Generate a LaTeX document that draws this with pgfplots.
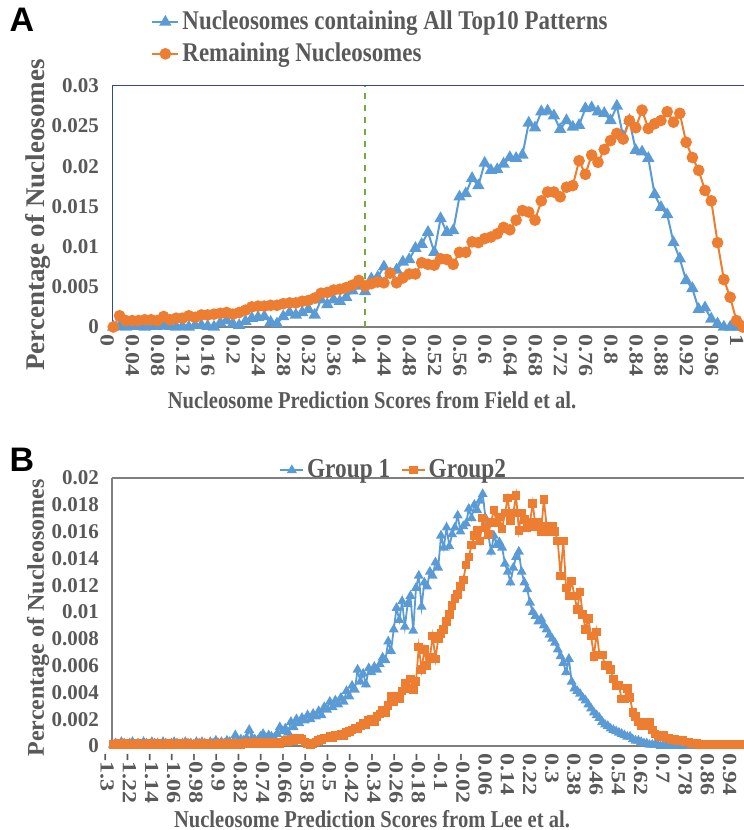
\documentclass[border=0pt]{standalone}
\usepackage{fontspec}
\setmainfont{Liberation Serif}
\newfontfamily\condserif[FakeStretch=0.85]{Liberation Serif}
\newfontfamily\longserif[FakeStretch=1.2]{Liberation Serif}
\newfontfamily\panelfont{Liberation Sans}
\usepackage{pgfplots}
\usepackage{pgfplotstable}
\pgfplotsset{compat=1.18}
\definecolor{serblue}{HTML}{5B9BD5}
\definecolor{serorange}{HTML}{ED7D31}
\definecolor{cutgreen}{HTML}{70AD47}
\definecolor{txtgray}{HTML}{595959}
\definecolor{framenavy}{HTML}{2E4A8C}
\definecolor{framegray}{HTML}{7F7F7F}

% panel A: Field et al. scores, step 0.01
\pgfplotstableread{
x y
0.00 0.0000
0.01 0.0001
0.02 0.0000
0.03 0.0001
0.04 0.0001
0.05 0.0000
0.06 0.0001
0.07 0.0001
0.08 0.0002
0.09 0.0001
0.10 0.0000
0.11 0.0001
0.12 0.0000
0.13 0.0002
0.14 0.0002
0.15 0.0001
0.16 0.0000
0.17 0.0005
0.18 0.0008
0.19 0.0004
0.20 0.0002
0.21 0.0007
0.22 0.0011
0.23 0.0012
0.24 0.0013
0.25 0.0006
0.26 0.0004
0.27 0.0013
0.28 0.0018
0.29 0.0015
0.30 0.0018
0.31 0.0022
0.32 0.0015
0.33 0.0034
0.34 0.0028
0.35 0.0034
0.36 0.0032
0.37 0.0037
0.38 0.0045
0.39 0.0051
0.40 0.0044
0.41 0.0060
0.42 0.0062
0.43 0.0075
0.44 0.0066
0.45 0.0071
0.46 0.0081
0.47 0.0084
0.48 0.0098
0.49 0.0103
0.50 0.0118
0.51 0.0093
0.52 0.0135
0.53 0.0118
0.54 0.0120
0.55 0.0162
0.56 0.0166
0.57 0.0185
0.58 0.0176
0.59 0.0204
0.60 0.0195
0.61 0.0196
0.62 0.0203
0.63 0.0211
0.64 0.0210
0.65 0.0214
0.66 0.0254
0.67 0.0248
0.68 0.0268
0.69 0.0269
0.70 0.0263
0.71 0.0246
0.72 0.0257
0.73 0.0249
0.74 0.0251
0.75 0.0272
0.76 0.0273
0.77 0.0268
0.78 0.0266
0.79 0.0257
0.80 0.0275
0.81 0.0237
0.82 0.0257
0.83 0.0220
0.84 0.0218
0.85 0.0210
0.86 0.0165
0.87 0.0149
0.88 0.0140
0.89 0.0105
0.90 0.0085
0.91 0.0058
0.92 0.0048
0.93 0.0022
0.94 0.0024
0.95 0.0010
0.96 0.0004
0.97 0.0000
0.98 0.0000
0.99 0.0000
1.00 0.0000
}\topten

\pgfplotstableread{
x y
0.00 0.0000
0.01 0.0014
0.02 0.0008
0.03 0.0008
0.04 0.0008
0.05 0.0009
0.06 0.0009
0.07 0.0008
0.08 0.0013
0.09 0.0009
0.10 0.0011
0.11 0.0011
0.12 0.0014
0.13 0.0012
0.14 0.0015
0.15 0.0015
0.16 0.0016
0.17 0.0017
0.18 0.0018
0.19 0.0016
0.20 0.0018
0.21 0.0021
0.22 0.0025
0.23 0.0026
0.24 0.0026
0.25 0.0027
0.26 0.0027
0.27 0.0029
0.28 0.0030
0.29 0.0030
0.30 0.0032
0.31 0.0033
0.32 0.0036
0.33 0.0042
0.34 0.0043
0.35 0.0046
0.36 0.0047
0.37 0.0049
0.38 0.0052
0.39 0.0058
0.40 0.0051
0.41 0.0054
0.42 0.0056
0.43 0.0055
0.44 0.0067
0.45 0.0055
0.46 0.0061
0.47 0.0066
0.48 0.0066
0.49 0.0080
0.50 0.0078
0.51 0.0077
0.52 0.0085
0.53 0.0084
0.54 0.0078
0.55 0.0093
0.56 0.0093
0.57 0.0106
0.58 0.0105
0.59 0.0110
0.60 0.0112
0.61 0.0116
0.62 0.0124
0.63 0.0121
0.64 0.0133
0.65 0.0145
0.66 0.0143
0.67 0.0133
0.68 0.0157
0.69 0.0168
0.70 0.0168
0.71 0.0162
0.72 0.0174
0.73 0.0176
0.74 0.0207
0.75 0.0190
0.76 0.0214
0.77 0.0205
0.78 0.0221
0.79 0.0232
0.80 0.0241
0.81 0.0234
0.82 0.0257
0.83 0.0248
0.84 0.0270
0.85 0.0247
0.86 0.0253
0.87 0.0257
0.88 0.0268
0.89 0.0255
0.90 0.0266
0.91 0.0230
0.92 0.0211
0.93 0.0195
0.94 0.0170
0.95 0.0157
0.96 0.0105
0.97 0.0059
0.98 0.0037
0.99 0.0008
1.00 0.0000
}\remaining

\pgfplotsset{
  panel/.style={
    scale only axis, clip=false,
    axis x line*=bottom, axis y line*=left,
    major tick length=0pt,
    tick label style={text=txtgray},
    /pgf/number format/assume math mode=true,
    scaled y ticks=false, scaled x ticks=false,
    yticklabel style={font=\fontsize{10.5}{11}\selectfont\bfseries, /pgf/number format/fixed, /pgf/number format/precision=3, anchor=east, xshift=-3pt},
    xticklabel style={font=\longserif\bfseries\fontsize{10}{11}\selectfont, /pgf/number format/fixed, /pgf/number format/precision=2, rotate=-90, anchor=west, yshift=-3pt},
    x axis line style={framegray, line width=0.8pt},
    legend style={draw=none, fill=none, text=txtgray, nodes={inner xsep=1.5pt}},
    legend cell align=left,
    legend image code/.code={\draw[##1, mark repeat=2, mark phase=2] plot coordinates {(0cm,0cm) (0.23cm,0cm) (0.46cm,0cm)};},
  }
}

\begin{document}
\begin{tikzpicture}
\useasboundingbox (0,0) rectangle (372pt,415pt);

\node[font=\panelfont\bfseries\fontsize{17}{18}\selectfont] at (11pt,405pt) {A};
\node[font=\panelfont\bfseries\fontsize{17}{18}\selectfont] at (11pt,185pt) {B};

\begin{axis}[panel,
  at={(56pt,251.5pt)}, anchor=south west,
  width=316pt, height=120.5pt,
  xmin=-0.002, xmax=1.002, ymin=0, ymax=0.03,
  xtick={0,0.04,0.08,0.12,0.16,0.2,0.24,0.28,0.32,0.36,0.4,0.44,0.48,0.52,0.56,0.6,0.64,0.68,0.72,0.76,0.8,0.84,0.88,0.92,0.96,1},
  ytick={0,0.005,0.01,0.015,0.02,0.025,0.03},
  y axis line style={framenavy, line width=0.5pt},
  legend style={at={(0.052,1.345)}, anchor=north west, font=\condserif\bfseries\fontsize{13.5}{14}\selectfont, row sep=1pt},
]
\addplot[serblue, line width=1pt, mark=triangle*, mark size=2.6pt] table {\topten};
\addlegendentry{Nucleosomes containing All Top10 Patterns}
\addplot[serorange, line width=1pt, mark=*, mark size=2.4pt] table {\remaining};
\addlegendentry{Remaining Nucleosomes}
\addplot[cutgreen, dashed, line width=0.8pt, forget plot] coordinates {(0.4,0) (0.4,0.03)};
\draw[framenavy, line width=0.5pt] (rel axis cs:0,1) -- (rel axis cs:1,1);
\end{axis}

\node[rotate=90, text=txtgray, font=\fontsize{13.5}{15}\selectfont\bfseries] at (19pt,307.5pt) {Percentage of Nucleosomes};
\node[text=txtgray, font=\condserif\bfseries\fontsize{12.1}{13}\selectfont] at (186pt,215pt) {Nucleosome Prediction Scores from Field et al.};

\begin{axis}[panel,
  at={(56pt,42pt)}, anchor=south west,
  width=316pt, height=134pt,
  xmin=-1.3036, xmax=0.97, ymin=0, ymax=0.02,
  xtick={-1.3,-1.22,-1.14,-1.06,-0.98,-0.9,-0.82,-0.74,-0.66,-0.58,-0.5,-0.42,-0.34,-0.26,-0.18,-0.1,-0.02,0.06,0.14,0.22,0.3,0.38,0.46,0.54,0.62,0.7,0.78,0.86,0.94},
  ytick={0,0.002,0.004,0.006,0.008,0.01,0.012,0.014,0.016,0.018,0.02},
  y axis line style={framegray, line width=0.6pt},
  legend columns=2,
  legend style={at={(0.255,1.10)}, anchor=north west, font=\condserif\bfseries\fontsize{13.7}{14}\selectfont, /tikz/every even column/.append style={column sep=4pt}},
  legend image code/.code={\draw[#1, mark repeat=2, mark phase=2] plot coordinates {(0cm,0cm) (0.2cm,0cm) (0.4cm,0cm)};},
]
\addplot[serblue, line width=0.9pt, mark=triangle*, mark size=2pt] coordinates {
(-1.30,0.0001) (-1.29,0.0002) (-1.28,0.0001) (-1.27,0.0003) (-1.26,0.0002) (-1.25,0.0001) (-1.24,0.0002) (-1.23,0.0003)
(-1.22,0.0001) (-1.21,0.0002) (-1.20,0.0001) (-1.19,0.0003) (-1.18,0.0002) (-1.17,0.0001) (-1.16,0.0003) (-1.15,0.0002)
(-1.14,0.0002) (-1.13,0.0001) (-1.12,0.0003) (-1.11,0.0002) (-1.10,0.0001) (-1.09,0.0002) (-1.08,0.0003) (-1.07,0.0002)
(-1.06,0.0001) (-1.05,0.0002) (-1.04,0.0003) (-1.03,0.0002) (-1.02,0.0002) (-1.01,0.0001) (-1.00,0.0003) (-0.99,0.0002)
(-0.98,0.0003) (-0.97,0.0002) (-0.96,0.0001) (-0.95,0.0003) (-0.94,0.0002) (-0.93,0.0004) (-0.92,0.0002) (-0.91,0.0003)
(-0.90,0.0002) (-0.89,0.0004) (-0.88,0.0003) (-0.87,0.0002) (-0.86,0.0008) (-0.85,0.0003) (-0.84,0.0005) (-0.83,0.0004)
(-0.82,0.0006) (-0.81,0.0012) (-0.80,0.0006) (-0.79,0.0005) (-0.78,0.0004) (-0.77,0.0007) (-0.76,0.0009) (-0.75,0.0006)
(-0.74,0.0008) (-0.73,0.0007) (-0.72,0.0006) (-0.71,0.0009) (-0.70,0.0014) (-0.69,0.0011) (-0.68,0.0013) (-0.67,0.0010)
(-0.66,0.0018) (-0.65,0.0014) (-0.64,0.0020) (-0.63,0.0017) (-0.62,0.0021) (-0.61,0.0019) (-0.60,0.0023) (-0.59,0.0020)
(-0.58,0.0024) (-0.57,0.0022) (-0.56,0.0026) (-0.55,0.0023) (-0.54,0.0029) (-0.53,0.0027) (-0.52,0.0033) (-0.51,0.0029)
(-0.50,0.0034) (-0.49,0.0031) (-0.48,0.0036) (-0.47,0.0033) (-0.46,0.0041) (-0.45,0.0037) (-0.44,0.0045) (-0.43,0.0042)
(-0.42,0.0057) (-0.41,0.0048) (-0.40,0.0054) (-0.39,0.0046) (-0.38,0.0058) (-0.37,0.0055) (-0.36,0.0059) (-0.35,0.0057)
(-0.34,0.0061) (-0.33,0.0066) (-0.32,0.0064) (-0.31,0.0078) (-0.30,0.0071) (-0.29,0.0087) (-0.28,0.0103) (-0.27,0.0094)
(-0.26,0.0108) (-0.25,0.0089) (-0.24,0.0106) (-0.23,0.0112) (-0.22,0.0086) (-0.21,0.0118) (-0.20,0.0127) (-0.19,0.0104)
(-0.18,0.0122) (-0.17,0.0119) (-0.16,0.0130) (-0.15,0.0127) (-0.14,0.0137) (-0.13,0.0133) (-0.12,0.0157) (-0.11,0.0148)
(-0.10,0.0163) (-0.09,0.0149) (-0.08,0.0158) (-0.07,0.0163) (-0.06,0.0172) (-0.05,0.0160) (-0.04,0.0164) (-0.03,0.0166)
(-0.02,0.0177) (-0.01,0.0170) (0.00,0.0180) (0.01,0.0176) (0.02,0.0183) (0.03,0.0188) (0.04,0.0170) (0.05,0.0158)
(0.06,0.0145) (0.07,0.0157) (0.08,0.0150) (0.09,0.0152) (0.10,0.0148) (0.11,0.0136) (0.12,0.0130) (0.13,0.0122)
(0.14,0.0133) (0.15,0.0141) (0.16,0.0145) (0.17,0.0130) (0.18,0.0122) (0.19,0.0117) (0.20,0.0107) (0.21,0.0100)
(0.22,0.0097) (0.23,0.0093) (0.24,0.0095) (0.25,0.0090) (0.26,0.0087) (0.27,0.0083) (0.28,0.0080) (0.29,0.0077)
(0.30,0.0072) (0.31,0.0067) (0.32,0.0062) (0.33,0.0055) (0.34,0.0065) (0.35,0.0048) (0.36,0.0043) (0.37,0.0041)
(0.38,0.0039) (0.39,0.0036) (0.40,0.0034) (0.41,0.0031) (0.42,0.0028) (0.43,0.0025) (0.44,0.0023) (0.45,0.0021)
(0.46,0.0018) (0.47,0.0016) (0.48,0.0015) (0.49,0.0013) (0.50,0.0012) (0.51,0.0011) (0.52,0.0010) (0.53,0.0009)
(0.54,0.0008) (0.55,0.0007) (0.56,0.0007) (0.57,0.0005) (0.58,0.0004) (0.59,0.0004) (0.60,0.0003) (0.61,0.0002)
(0.62,0.0002) (0.63,0.0001) (0.64,0.0001) (0.65,0.0001) (0.66,0.0001) (0.67,0) (0.68,0) (0.69,0) (0.70,0) (0.71,0)
(0.72,0) (0.73,0) (0.74,0) (0.75,0) (0.76,0) (0.77,0) (0.78,0) (0.79,0) (0.80,0) (0.81,0) (0.82,0) (0.83,0)
(0.84,0) (0.85,0) (0.86,0) (0.87,0) (0.88,0) (0.89,0) (0.90,0) (0.91,0) (0.92,0) (0.93,0) (0.94,0) (0.95,0) (0.96,0)
};
\addlegendentry{Group 1}
\addplot[serorange, line width=0.9pt, mark=square*, mark size=1.7pt] coordinates {
(-1.30,0.0001) (-1.29,0.0001) (-1.28,0.0002) (-1.27,0.0001) (-1.26,0.0001) (-1.25,0.0002) (-1.24,0.0001) (-1.23,0.0001)
(-1.22,0.0001) (-1.21,0.0002) (-1.20,0.0001) (-1.19,0.0001) (-1.18,0.0001) (-1.17,0.0002) (-1.16,0.0001) (-1.15,0.0001)
(-1.14,0.0002) (-1.13,0.0001) (-1.12,0.0001) (-1.11,0.0001) (-1.10,0.0002) (-1.09,0.0001) (-1.08,0.0001) (-1.07,0.0001)
(-1.06,0.0002) (-1.05,0.0001) (-1.04,0.0001) (-1.03,0.0002) (-1.02,0.0001) (-1.01,0.0001) (-1.00,0.0001) (-0.99,0.0002)
(-0.98,0.0001) (-0.97,0.0001) (-0.96,0.0002) (-0.95,0.0001) (-0.94,0.0001) (-0.93,0.0001) (-0.92,0.0002) (-0.91,0.0001)
(-0.90,0.0001) (-0.89,0.0002) (-0.88,0.0001) (-0.87,0.0002) (-0.86,0.0001) (-0.85,0.0002) (-0.84,0.0001) (-0.83,0.0002)
(-0.82,0.0003) (-0.81,0.0002) (-0.80,0.0003) (-0.79,0.0002) (-0.78,0.0003) (-0.77,0.0002) (-0.76,0.0003) (-0.75,0.0002)
(-0.74,0.0002) (-0.73,0.0003) (-0.72,0.0002) (-0.71,0.0003) (-0.70,0.0002) (-0.69,0.0003) (-0.68,0.0004) (-0.67,0.0003)
(-0.66,0.0005) (-0.65,0.0004) (-0.64,0.0006) (-0.63,0.0006) (-0.62,0.0005) (-0.61,0.0003) (-0.60,0.0002) (-0.59,0.0001)
(-0.58,0.0002) (-0.57,0.0003) (-0.56,0.0004) (-0.55,0.0005) (-0.54,0.0006) (-0.53,0.0006) (-0.52,0.0007) (-0.51,0.0006)
(-0.50,0.0008) (-0.49,0.0008) (-0.48,0.0009) (-0.47,0.0008) (-0.46,0.0010) (-0.45,0.0011) (-0.44,0.0012) (-0.43,0.0013)
(-0.42,0.0013) (-0.41,0.0015) (-0.40,0.0017) (-0.39,0.0016) (-0.38,0.0019) (-0.37,0.0020) (-0.36,0.0018) (-0.35,0.0022)
(-0.34,0.0024) (-0.33,0.0027) (-0.32,0.0025) (-0.31,0.0030) (-0.30,0.0037) (-0.29,0.0033) (-0.28,0.0037) (-0.27,0.0035)
(-0.26,0.0041) (-0.25,0.0047) (-0.24,0.0043) (-0.23,0.0050) (-0.22,0.0042) (-0.21,0.0048) (-0.20,0.0074) (-0.19,0.0057)
(-0.18,0.0072) (-0.17,0.0060) (-0.16,0.0066) (-0.15,0.0082) (-0.14,0.0065) (-0.13,0.0080) (-0.12,0.0084) (-0.11,0.0087)
(-0.10,0.0093) (-0.09,0.0098) (-0.08,0.0105) (-0.07,0.0110) (-0.06,0.0113) (-0.05,0.0119) (-0.04,0.0124) (-0.03,0.0135)
(-0.02,0.0141) (-0.01,0.0150) (0.00,0.0157) (0.01,0.0161) (0.02,0.0153) (0.03,0.0170) (0.04,0.0163) (0.05,0.0158)
(0.06,0.0167) (0.07,0.0176) (0.08,0.0167) (0.09,0.0171) (0.10,0.0162) (0.11,0.0174) (0.12,0.0185) (0.13,0.0168)
(0.14,0.0174) (0.15,0.0187) (0.16,0.0161) (0.17,0.0174) (0.18,0.0169) (0.19,0.0163) (0.20,0.0167) (0.21,0.0181)
(0.22,0.0164) (0.23,0.0167) (0.24,0.0160) (0.25,0.0184) (0.26,0.0164) (0.27,0.0160) (0.28,0.0164) (0.29,0.0160)
(0.30,0.0153) (0.31,0.0127) (0.32,0.0153) (0.33,0.0118) (0.34,0.0112) (0.35,0.0123) (0.36,0.0112) (0.37,0.0102)
(0.38,0.0115) (0.39,0.0098) (0.40,0.0087) (0.41,0.0095) (0.42,0.0082) (0.43,0.0067) (0.44,0.0085) (0.45,0.0068)
(0.46,0.0068) (0.47,0.0060) (0.48,0.0060) (0.49,0.0057) (0.50,0.0050) (0.51,0.0045) (0.52,0.0045) (0.53,0.0035)
(0.54,0.0035) (0.55,0.0043) (0.56,0.0036) (0.57,0.0025) (0.58,0.0022) (0.59,0.0018) (0.60,0.0015) (0.61,0.0015)
(0.62,0.0018) (0.63,0.0018) (0.64,0.0012) (0.65,0.0009) (0.66,0.0008) (0.67,0.0007) (0.68,0.0008) (0.69,0.0006)
(0.70,0.0006) (0.71,0.0005) (0.72,0.0005) (0.73,0.0004) (0.74,0.0004) (0.75,0.0004) (0.76,0.0003) (0.77,0.0003)
(0.78,0.0002) (0.79,0.0002) (0.80,0.0002) (0.81,0.0001) (0.82,0.0001) (0.83,0.0001) (0.84,0.0001) (0.85,0.0001)
(0.86,0.0001) (0.87,0.0001) (0.88,0.0001) (0.89,0.0001) (0.90,0.0001) (0.91,0.0001) (0.92,0.0001) (0.93,0.0001)
(0.94,0.0001) (0.95,0.0001) (0.96,0.0001)
};
\addlegendentry{Group2}
\draw[framegray, line width=0.8pt] (rel axis cs:0,1) -- (rel axis cs:1,1);
\end{axis}

\node[rotate=90, text=txtgray, font=\fontsize{12}{14}\selectfont\bfseries] at (19pt,106pt) {Percentage of Nucleosomes};
\node[text=txtgray, font=\condserif\bfseries\fontsize{12.1}{13}\selectfont] at (186pt,5.5pt) {Nucleosome Prediction Scores from Lee et al.};
\end{tikzpicture}
\end{document}
